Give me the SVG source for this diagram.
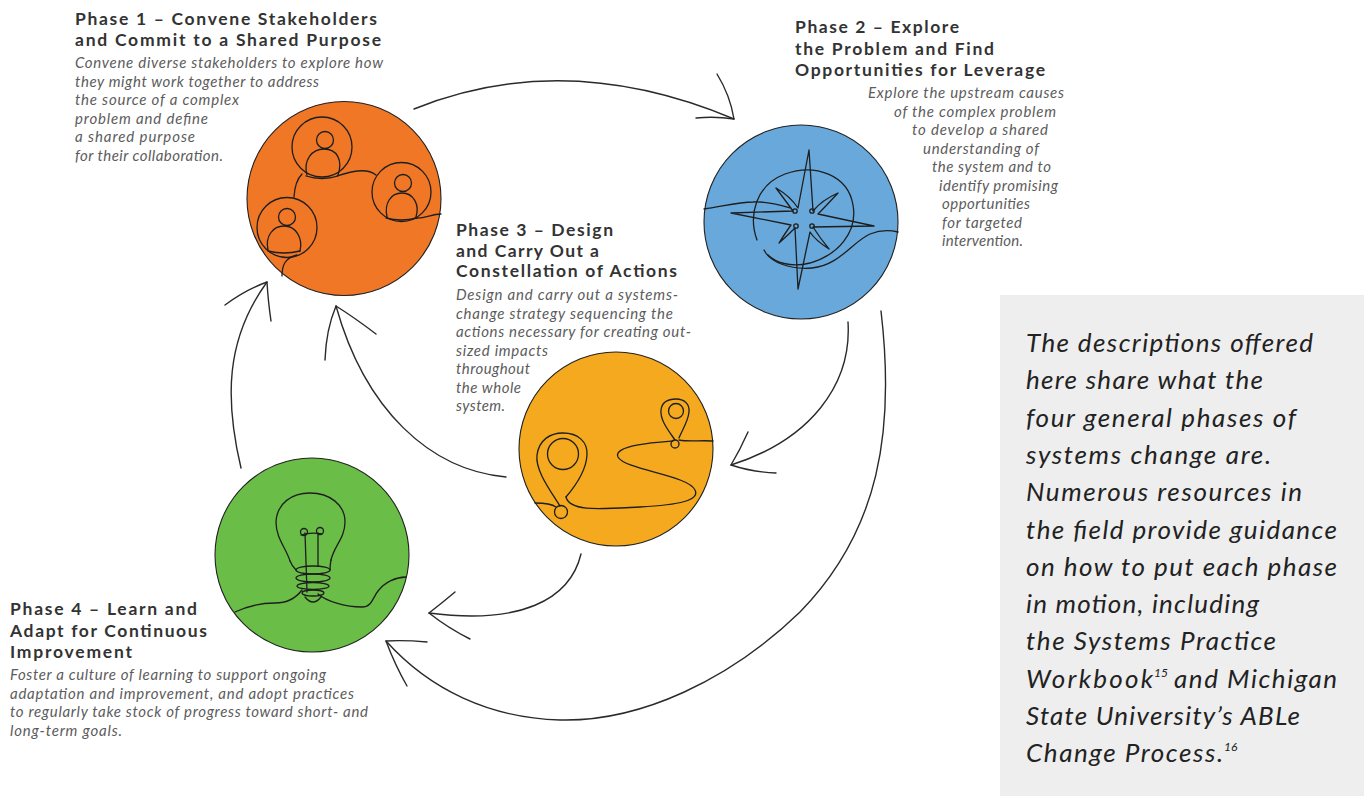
<svg xmlns="http://www.w3.org/2000/svg" width="1364" height="796" viewBox="0 0 1364 796">
<style>
.bg{fill:#ffffff}
.node{stroke:#222;stroke-width:1.1}
.ic{fill:none;stroke:#1e1e1e;stroke-width:1.3;stroke-linecap:round;stroke-linejoin:round}
.arr{fill:none;stroke:#2a2a2a;stroke-width:1.4;stroke-linecap:round}
.h{font-family:"Lato","Open Sans","Liberation Sans",sans-serif;font-weight:700;font-size:17.5px;fill:#333}
.d{font-family:"Lato","Open Sans","Liberation Sans",sans-serif;font-style:italic;font-weight:400;font-size:15px;fill:#5c5c5c}
.n{font-family:"Lato","Open Sans","Liberation Sans",sans-serif;font-style:italic;font-weight:400;font-size:26px;fill:#222}
.sup{font-family:"Lato","Open Sans","Liberation Sans",sans-serif;font-style:italic;font-size:12px;fill:#222}
</style>
<rect class="bg" x="0" y="0" width="1364" height="796"/>

<g id="connectors">
  <path class="arr" d="M414,109 Q565,48 734,119"/>
  <path class="arr" d="M717,74 Q730,95 734,119 M696,118 Q715,116 734,119"/>
  <path class="arr" d="M848,322 C852,385 810,440 731,465"/>
  <path class="arr" d="M748,432 Q740,450 731,465 M776,473 Q752,472 731,465"/>
  <path class="arr" d="M881,311 C895,430 880,530 800,612 C730,680 640,722 560,720 C490,718 430,690 386,641"/>
  <path class="arr" d="M427,642 Q405,640 386,641 M407,686 Q395,665 386,641"/>
  <path class="arr" d="M581,554 C570,600 520,625 429,613"/>
  <path class="arr" d="M455,592 Q442,603 429,613 M470,639 Q448,628 429,613"/>
  <path class="arr" d="M506,477 C430,470 365,410 336,306"/>
  <path class="arr" d="M376,334 Q355,318 336,306 M325,360 Q326,330 336,306"/>
  <path class="arr" d="M241,468 C225,400 225,340 267,282"/>
  <path class="arr" d="M225,305 Q245,290 267,282 M271,321 Q268,300 267,282"/>
</g>

<g id="phase1">
  <circle class="node" cx="344" cy="198.5" r="97" fill="#EF7726"/>
  <g class="ic">
    <circle cx="322" cy="147" r="30"/>
    <circle cx="325" cy="140" r="8.5"/>
    <path d="M307,175 C303,160 312,149 324,149 C337,149 343,160 338,175"/>
    <path d="M306,176 Q322,181 338,176"/>
    <circle cx="401.5" cy="192" r="29.5"/>
    <circle cx="403" cy="183" r="8.5"/>
    <path d="M387,217 C384,203 391,193 402,193 C413,193 420,204 416,217"/>
    <path d="M386,218 Q401,222 417,218"/>
    <circle cx="287" cy="227.5" r="30"/>
    <circle cx="287" cy="217" r="8.5"/>
    <path d="M268,250 C265,236 273,226 284,226 C296,226 303,238 300,251"/>
    <path d="M268,251 Q284,255 300,251"/>
    <path d="M302,174 Q295,181 294,197"/>
    <path d="M337,176 C350,172 366,167 376,175"/>
    <path d="M415,218 C425,219 431,214 441,214"/>
    <path d="M297,255 C285,258 282,265 282,276"/>
  </g>
  <text class="h" x="75" y="25" textLength="302" lengthAdjust="spacing">Phase 1 – Convene Stakeholders</text>
  <text class="h" x="75" y="46" textLength="306" lengthAdjust="spacing">and Commit to a Shared Purpose</text>
  <text class="d" x="75" y="68" textLength="308" lengthAdjust="spacing">Convene diverse stakeholders to explore how</text>
  <text class="d" x="75" y="86.5" textLength="244" lengthAdjust="spacing">they might work together to address</text>
  <text class="d" x="75" y="105" textLength="164" lengthAdjust="spacing">the source of a complex</text>
  <text class="d" x="75" y="123.5" textLength="133" lengthAdjust="spacing">problem and define</text>
  <text class="d" x="75" y="142" textLength="120" lengthAdjust="spacing">a shared purpose</text>
  <text class="d" x="75" y="160.5" textLength="148" lengthAdjust="spacing">for their collaboration.</text>
</g>

<g id="phase2">
  <circle class="node" cx="801" cy="222" r="97" fill="#68A8DA"/>
  <g class="ic">
    <path d="M757,240 C748,215 756,185 785,174 C815,163 848,175 853,205 C858,232 838,255 810,263 C790,268 775,262 768,255"/>
    <path d="M809,150 L813,211 Q822,200 838,193 Q824,208 818,214 L874,226 L813,227 Q820,238 829,249 Q815,240 810,232 L798,289 L795,228 Q787,236 779,243 Q786,232 791,225 L731,213 L793,211 Q785,200 776,188 Q790,196 798,208 Z"/>
    <circle cx="795" cy="211" r="2.2"/>
    <circle cx="812" cy="211" r="2.2"/>
    <circle cx="812" cy="226" r="2.2"/>
    <circle cx="796" cy="226" r="2.2"/>
    <path d="M704,209 C720,207 738,202 753,202 C768,201 780,205 790,208"/>
    <path d="M764,250 C770,262 790,270 812,268 C840,265 852,242 870,234 C880,230 890,230 898,232"/>
  </g>
  <text class="h" x="795" y="33" textLength="164" lengthAdjust="spacing">Phase 2 – Explore</text>
  <text class="h" x="795" y="54.5" textLength="199" lengthAdjust="spacing">the Problem and Find</text>
  <text class="h" x="795" y="76" textLength="250" lengthAdjust="spacing">Opportunities for Leverage</text>
  <text class="d" x="868" y="98" textLength="196" lengthAdjust="spacing">Explore the upstream causes</text>
  <text class="d" x="894" y="116.5" textLength="162" lengthAdjust="spacing">of the complex problem</text>
  <text class="d" x="912" y="135" textLength="136" lengthAdjust="spacing">to develop a shared</text>
  <text class="d" x="923" y="153.5" textLength="116" lengthAdjust="spacing">understanding of</text>
  <text class="d" x="932" y="172" textLength="119" lengthAdjust="spacing">the system and to</text>
  <text class="d" x="939" y="190.5" textLength="119" lengthAdjust="spacing">identify promising</text>
  <text class="d" x="942" y="209" textLength="88" lengthAdjust="spacing">opportunities</text>
  <text class="d" x="942" y="227.5" textLength="80" lengthAdjust="spacing">for targeted</text>
  <text class="d" x="942" y="246" textLength="81" lengthAdjust="spacing">intervention.</text>
</g>

<g id="phase3">
  <circle class="node" cx="616" cy="449" r="97" fill="#F4A91F"/>
  <g class="ic">
    <path d="M560,506 C550,490 535,470 537,455 C539,440 550,433 563,433 C578,433 588,442 587,455 C586,472 572,490 566,497"/>
    <circle cx="563" cy="454" r="15.5"/>
    <circle cx="561" cy="512" r="6.5"/>
    <path d="M535,503 C545,503 552,504 556,507"/>
    <path d="M566,497 C570,512 600,509 640,507 C680,505 700,500 695,490 C688,475 625,470 618,457 C612,445 660,442 673,441"/>
    <path d="M675,440 C668,430 660,420 661,410 C662,402 668,399 676,399 C684,399 690,404 689,412 C688,422 682,430 679,438"/>
    <circle cx="676" cy="411" r="7.5"/>
    <circle cx="675" cy="444" r="4"/>
    <path d="M679,440 C690,442 700,440 713,441"/>
  </g>
  <text class="h" x="456" y="236" textLength="157" lengthAdjust="spacing">Phase 3 – Design</text>
  <text class="h" x="456" y="256.5" textLength="143" lengthAdjust="spacing">and Carry Out a</text>
  <text class="h" x="456" y="277" textLength="221" lengthAdjust="spacing">Constellation of Actions</text>
  <text class="d" x="456" y="300" textLength="222" lengthAdjust="spacing">Design and carry out a systems-</text>
  <text class="d" x="456" y="318.5" textLength="217" lengthAdjust="spacing">change strategy sequencing the</text>
  <text class="d" x="456" y="337" textLength="235" lengthAdjust="spacing">actions necessary for creating out-</text>
  <text class="d" x="456" y="355.5" textLength="92" lengthAdjust="spacing">sized impacts</text>
  <text class="d" x="456" y="374" textLength="74" lengthAdjust="spacing">throughout</text>
  <text class="d" x="456" y="392.5" textLength="65" lengthAdjust="spacing">the whole</text>
  <text class="d" x="456" y="411" textLength="49" lengthAdjust="spacing">system.</text>
</g>

<g id="phase4">
  <circle class="node" cx="312" cy="555" r="97" fill="#6ABD46"/>
  <g class="ic">
    <path d="M290,561 C286,548 276,538 276,522 C277,503 292,493 310,493 C330,493 345,505 345,522 C345,538 334,546 331,560"/>
    <path d="M290,561 C292,566 294,568 296,570 M331,560 C330,565 330,567 330,570"/>
    <ellipse cx="313" cy="570" rx="17" ry="4"/>
    <ellipse cx="313" cy="578" rx="17" ry="4"/>
    <ellipse cx="313" cy="586" rx="16" ry="3.5"/>
    <ellipse cx="313" cy="593" rx="11" ry="3"/>
    <path d="M305,597 Q313,607 321,597"/>
    <path d="M305,533 L307,592 M318,533 L318,566"/>
    <circle cx="304" cy="532" r="3.5"/>
    <circle cx="320" cy="531" r="3.5"/>
    <path d="M301,535 Q311,532 322,534"/>
    <path d="M235,612 C248,606 262,603 275,603 C288,603 296,598 302,590"/>
    <path d="M318,594 C326,601 345,607 362,607 C372,607 373,597 378,591 C385,582 396,577 406,577"/>
  </g>
  <text class="h" x="10" y="615" textLength="187" lengthAdjust="spacing">Phase 4 – Learn and</text>
  <text class="h" x="10" y="636.5" textLength="197" lengthAdjust="spacing">Adapt for Continuous</text>
  <text class="h" x="10" y="658" textLength="122" lengthAdjust="spacing">Improvement</text>
  <text class="d" x="10" y="680" textLength="316" lengthAdjust="spacing">Foster a culture of learning to support ongoing</text>
  <text class="d" x="10" y="698.5" textLength="344" lengthAdjust="spacing">adaptation and improvement, and adopt practices</text>
  <text class="d" x="10" y="717" textLength="358" lengthAdjust="spacing">to regularly take stock of progress toward short- and</text>
  <text class="d" x="10" y="735.5" textLength="112" lengthAdjust="spacing">long-term goals.</text>
</g>

<g id="note">
  <rect x="1000" y="295" width="364" height="501" fill="#EEEEEE"/>
  <text class="n" x="1026" y="352" textLength="287" lengthAdjust="spacing">The descriptions offered</text>
  <text class="n" x="1026" y="389.3" textLength="237" lengthAdjust="spacing">here share what the</text>
  <text class="n" x="1026" y="426.6" textLength="270" lengthAdjust="spacing">four general phases of</text>
  <text class="n" x="1026" y="463.9" textLength="245" lengthAdjust="spacing">systems change are.</text>
  <text class="n" x="1026" y="501.2" textLength="276" lengthAdjust="spacing">Numerous resources in</text>
  <text class="n" x="1026" y="538.5" textLength="311" lengthAdjust="spacing">the field provide guidance</text>
  <text class="n" x="1026" y="575.8" textLength="311" lengthAdjust="spacing">on how to put each phase</text>
  <text class="n" x="1026" y="613.1" textLength="233" lengthAdjust="spacing">in motion, including</text>
  <text class="n" x="1026" y="650.4" textLength="250" lengthAdjust="spacing">the Systems Practice</text>
  <text class="n" x="1026" y="687.7" textLength="127" lengthAdjust="spacing">Workbook</text>
  <text class="sup" x="1154" y="677">15</text>
  <text class="n" x="1174" y="687.7" textLength="163" lengthAdjust="spacing">and Michigan</text>
  <text class="n" x="1026" y="725" textLength="274" lengthAdjust="spacing">State University’s ABLe</text>
  <text class="n" x="1026" y="762.3" textLength="197" lengthAdjust="spacing">Change Process.</text>
  <text class="sup" x="1224" y="751">16</text>
</g>
</svg>
